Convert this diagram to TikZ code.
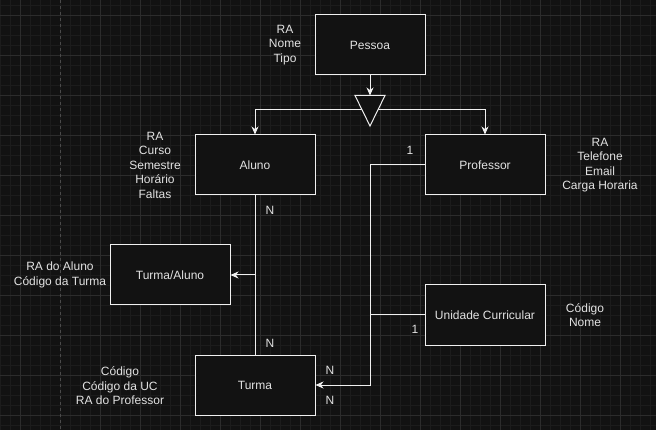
\documentclass[tikz,border=0pt]{standalone}
\usepackage{fontspec}
\setmainfont{Liberation Sans}
\usetikzlibrary{arrows.meta}
\definecolor{canvasbg}{HTML}{121212}
\definecolor{gridminor}{HTML}{1C1C1C}
\definecolor{gridmajor}{HTML}{2C2C2C}
\definecolor{pageline}{HTML}{4A4A4A}
\definecolor{inkline}{HTML}{F0F0F0}
\definecolor{inktext}{HTML}{E2E2E2}

\begin{document}
\begin{tikzpicture}[
  x={(1pt,0pt)},
  y={(0pt,-1pt)},
  font=\fontsize{12}{14.5}\selectfont,
  minorgrid/.style={draw=gridminor,line width=0.6pt},
  majorgrid/.style={draw=gridmajor,line width=0.8pt},
  entity/.style={draw=inkline,fill=canvasbg,line width=1pt,text=inktext,
    minimum width=120pt,minimum height=60pt,inner sep=0pt},
  attrs/.style={text=inktext,align=center,inner sep=0pt},
  card/.style={text=inktext,inner sep=0pt},
  link/.style={draw=inkline,line width=1pt},
  arrow/.style={link,-{Stealth[length=8pt,width=7pt,inset=2.5pt]}}
]
  % Canvas and grid, in pixel units with y pointing down.
  \fill[canvasbg] (0,0) rectangle (656,430);
  \useasboundingbox (0,0) rectangle (656,430);
  \foreach \gx in {0,10,...,650} {
    \draw[minorgrid] (\gx,0) -- (\gx,430);
  }
  \foreach \gy in {5,15,...,425} {
    \draw[minorgrid] (0,\gy) -- (656,\gy);
  }
  \foreach \gx in {20,100,140,...,620} {
    \draw[majorgrid] (\gx,0) -- (\gx,430);
  }
  \foreach \gy in {15,55,...,415} {
    \draw[majorgrid] (0,\gy) -- (656,\gy);
  }
  \draw[pageline,line width=0.8pt,dash pattern=on 3pt off 3pt] (60,0) -- (60,430);

  % Entities.
  \node[entity,minimum width=110pt] (pessoa) at (370,45) {Pessoa};
  \node[entity] (aluno) at (255,165) {Aluno};
  \node[entity] (professor) at (485,165) {Professor};
  \node[entity] (turmaaluno) at (170,275) {Turma/Aluno};
  \node[entity] (unidade) at (485,315) {Unidade Curricular};
  \node[entity] (turma) at (255,385) {Turma};

  % Attribute lists beside each entity.
  \node[attrs] (pessoaattrs) at (285,45) {RA\\Nome\\Tipo};
  \node[attrs] (alunoattrs) at (155,165) {RA\\Curso\\Semestre\\Horário\\Faltas};
  \node[attrs] (professorattrs) at (600,165) {RA\\Telefone\\Email\\Carga Horaria};
  \node[attrs] (turmaalunoattrs) at (60,275) {RA do Aluno\\Código da Turma};
  \node[attrs] (unidadeattrs) at (585,315) {Código\\Nome};
  \node[attrs] (turmaattrs) at (120,386) {Código\\Código da UC\\RA do Professor};

  % Specialisation of Pessoa into Aluno and Professor.
  \coordinate (gentop) at (370,95.5);
  \coordinate (genleft) at (362.5,110);
  \coordinate (genright) at (377.5,110);
  \draw[arrow] (pessoa.south) -- (gentop);
  \draw[arrow] (genleft) -| (aluno.north);
  \draw[arrow] (genright) -| (professor.north);
  \draw[link,fill=canvasbg] (355,95.5) -- (385,95.5) -- (370,126) -- cycle;

  % Relationships.
  \coordinate (split) at (aluno.south |- turmaaluno.east);
  \coordinate (bus) at (370,165);
  \draw[link] (aluno.south) -- (turma.north);
  \draw[arrow] (split) -- (turmaaluno.east);
  \draw[arrow] (professor.west) -- (bus) |- (turma.east);
  \draw[link] (unidade.west) -- (unidade.west -| bus);

  % Cardinalities.
  \node[card] (profone) at (410,150) {1};
  \node[card] (ucone) at (415,329) {1};
  \node[card] (alunon) at (270,210) {N};
  \node[card] (turmantop) at (270,343) {N};
  \node[card] (turmanprof) at (330,370) {N};
  \node[card] (turmanuc) at (330,400) {N};
\end{tikzpicture}
\end{document}
